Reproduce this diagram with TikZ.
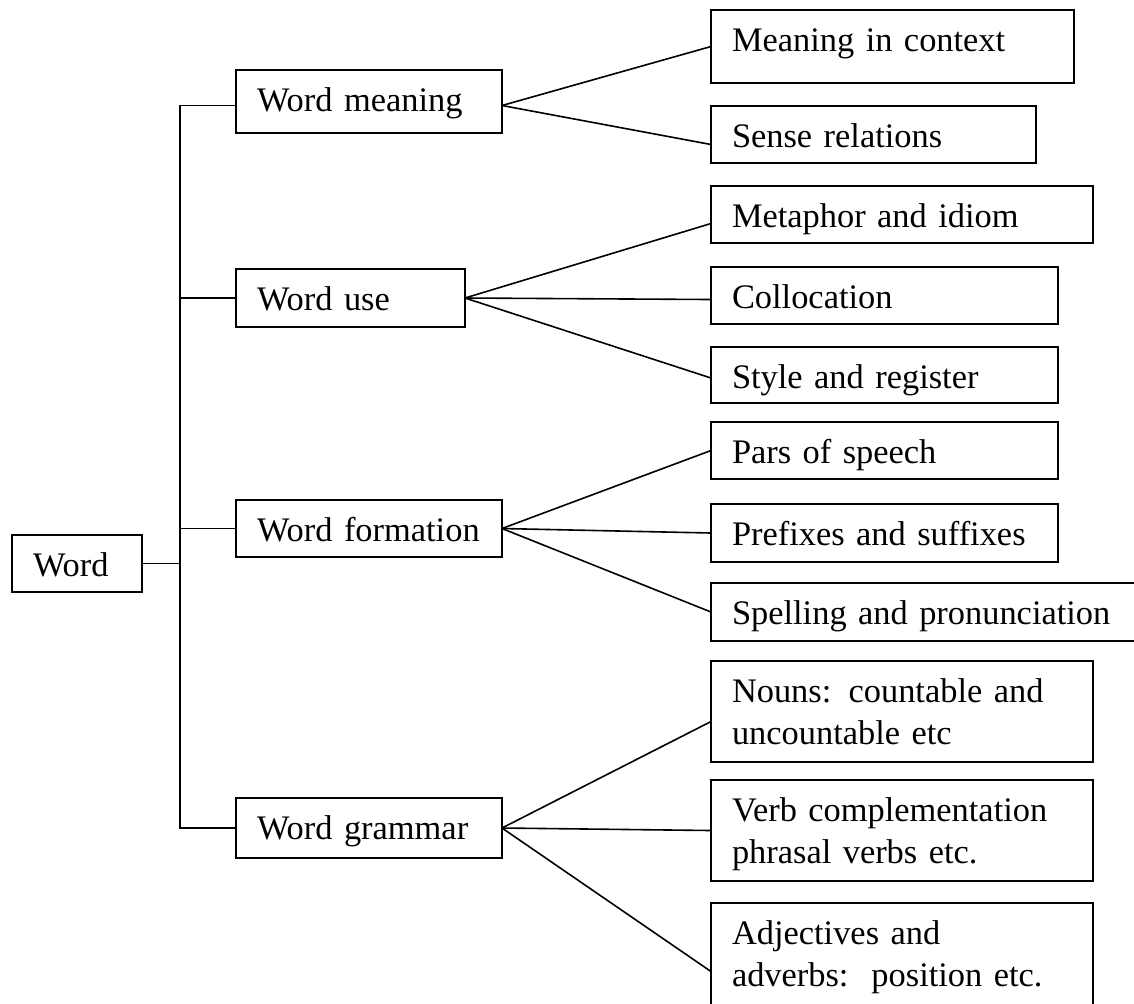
\documentclass[tikz,border=0pt]{standalone}
\usepackage{fontspec}
\setmainfont{Liberation Serif}
\begin{document}
\begin{tikzpicture}[x=0.5pt,y=-0.5pt,
  box/.style={draw, line width=0.8pt, anchor=north west, inner xsep=10.5pt,
    inner ysep=0pt, outer sep=0pt, align=left, text height=20.5pt,
    font=\fontsize{17.2}{21}\selectfont},
  link/.style={line width=0.8pt}]
\useasboundingbox (0,0) rectangle (1134,1003);

% root and first level
\node[box, text width=44pt, text depth=8pt] (word) at (12,535) {Word};
\node[box, text width=112pt, text depth=11pt] (wmean) at (236,70) {Word meaning};
\node[box, text width=93.5pt, text depth=8.5pt] (wuse) at (236,269) {Word use};
\node[box, text width=112pt, text depth=8pt] (wform) at (236,500) {Word formation};
\node[box, text width=112pt, text depth=9.5pt] (wgram) at (236,798) {Word grammar};

% second level
\node[box, text width=160.5pt, text depth=16pt] (mic) at (711,10) {Meaning in context};
\node[box, text width=141.5pt, text depth=8pt] (sense) at (711,106) {Sense relations};
\node[box, text width=170pt, text depth=8pt] (metaph) at (711,186) {Metaphor and idiom};
\node[box, text width=152.5pt, text depth=8pt] (colloc) at (711,267) {Collocation};
\node[box, text width=152.5pt, text depth=7.5pt] (style) at (711,347) {Style and register};
\node[box, text width=152.5pt, text depth=8pt] (pars) at (711,422) {Pars of speech};
\node[box, text width=152.5pt, text depth=8.5pt] (prefix) at (711,504) {Prefixes and suffixes};
\node[box, text width=209pt, text depth=8.5pt] (spell) at (711,583) {Spelling and pronunciation};
\node[box, text width=170pt, text depth=30pt] (nouns) at (711,661) {Nouns: countable and\\uncountable etc};
\node[box, text width=170pt, text depth=30pt] (verb) at (711,780) {Verb complementation\\phrasal verbs etc.};
\node[box, text width=170pt, text depth=40pt] (adj) at (711,903) {Adjectives and\\adverbs:\ \ position etc.};

% trunk
\coordinate (spine) at (180,0);
\coordinate (mtop) at ([yshift=-2pt]wmean.west);
\draw[link] (mtop) -- (mtop -| spine) -- (wgram.west -| spine) -- (wgram.west);
\draw[link] (wuse.west) -- (wuse.west -| spine);
\draw[link] (wform.west) -- (wform.west -| spine);
\draw[link] (word.east) -- (word.east -| spine);

% fans
\draw[link] ([yshift=-2pt]wmean.east) -- (mic.west);
\draw[link] ([yshift=-2pt]wmean.east) -- ([yshift=-5pt]sense.west);
\draw[link] (wuse.east) -- ([yshift=-4.5pt]metaph.west);
\draw[link] (wuse.east) -- ([yshift=-2pt]colloc.west);
\draw[link] (wuse.east) -- ([yshift=-1.5pt]style.west);
\draw[link] (wform.east) -- (pars.west);
\draw[link] (wform.east) -- (prefix.west);
\draw[link] (wform.east) -- (spell.west);
\draw[link] (wgram.east) -- ([yshift=-5pt]nouns.west);
\draw[link] (wgram.east) -- (verb.west);
\draw[link] (wgram.east) -- ([yshift=-4pt]adj.west);
\end{tikzpicture}
\end{document}
